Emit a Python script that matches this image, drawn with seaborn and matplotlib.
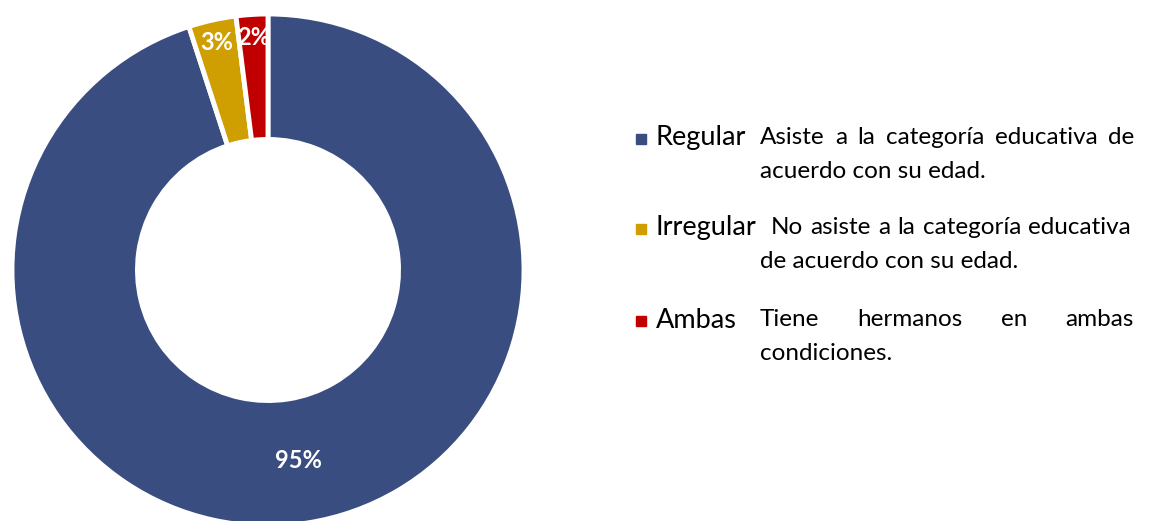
import matplotlib
matplotlib.use("Agg")
import matplotlib.pyplot as plt
import seaborn as sns
import numpy as np

# Data
categories = ["Regular", "Irregular", "Ambas"]
values = [95, 3, 2]
pct_labels = ["95%", "3%", "2%"]
descriptions = [
    ["Asiste a la categoría educativa de", "acuerdo con su edad."],
    ["No asiste a la categoría educativa", "de acuerdo con su edad."],
    ["Tiene hermanos en ambas", "condiciones."],
]
colors = ["#394D80", "#CF9E00", "#C00000"]

sns.set_theme(style="white")
plt.rcParams["font.family"] = ["Lato", "DejaVu Sans"]

W, H = 1152, 521
fig = plt.figure(figsize=(W / 100, H / 100), dpi=100)

# Donut axes (centre ~ (268, 270) px, outer radius ~256 px)
cx, cy, R = 268, 270, 256
ax = fig.add_axes([(cx - R) / W, (H - cy - R) / H, 2 * R / W, 2 * R / H])
wedges, _ = ax.pie(
    values,
    colors=colors,
    startangle=90,
    counterclock=False,
    radius=1.0,
    wedgeprops=dict(width=0.49, edgecolor="white", linewidth=3.5),
)
ax.set_xlim(-1, 1)
ax.set_ylim(-1, 1)
ax.set_aspect("equal")
ax.axis("off")

for w, lab, v in zip(wedges, pct_labels, values):
    ang = np.deg2rad((w.theta1 + w.theta2) / 2)
    r = 0.755 if v > 10 else 0.91
    ax.text(r * np.cos(ang), r * np.sin(ang), lab, color="white",
            fontsize=17, fontweight="bold", ha="center", va="center")

# Legend with descriptions
renderer = fig.canvas.get_renderer()
row_y = [138, 228, 320]
line_gap = 33
desc_x0 = [760, 771, 760]
desc_x1 = [1134, 1131, 1134]
desc_size = 17.5
cat_size = 19.5


def text_width(s):
    t = fig.text(0, 0, s, fontsize=desc_size)
    w = t.get_window_extent(renderer).width
    t.remove()
    return w


for i, cat in enumerate(categories):
    y = row_y[i]
    fig.patches.append(plt.Rectangle((636 / W, (H - y - 6) / H), 10 / W, 10 / H,
                                     transform=fig.transFigure, color=colors[i],
                                     figure=fig))
    fig.text(656 / W, (H - y) / H, cat, fontsize=cat_size, va="center",
             ha="left", color="black")
    # first line justified
    words = descriptions[i][0].split()
    widths = [text_width(wd) for wd in words]
    x0, x1 = desc_x0[i], desc_x1[i]
    gap = (x1 - x0 - sum(widths)) / (len(words) - 1)
    x = x0
    for wd, ww in zip(words, widths):
        fig.text(x / W, (H - y) / H, wd, fontsize=desc_size, va="center",
                 ha="left", color="black")
        x += ww + gap
    fig.text(760 / W, (H - y - line_gap) / H, descriptions[i][1],
             fontsize=desc_size, va="center", ha="left", color="black")

fig.savefig("out.png", dpi=100)
